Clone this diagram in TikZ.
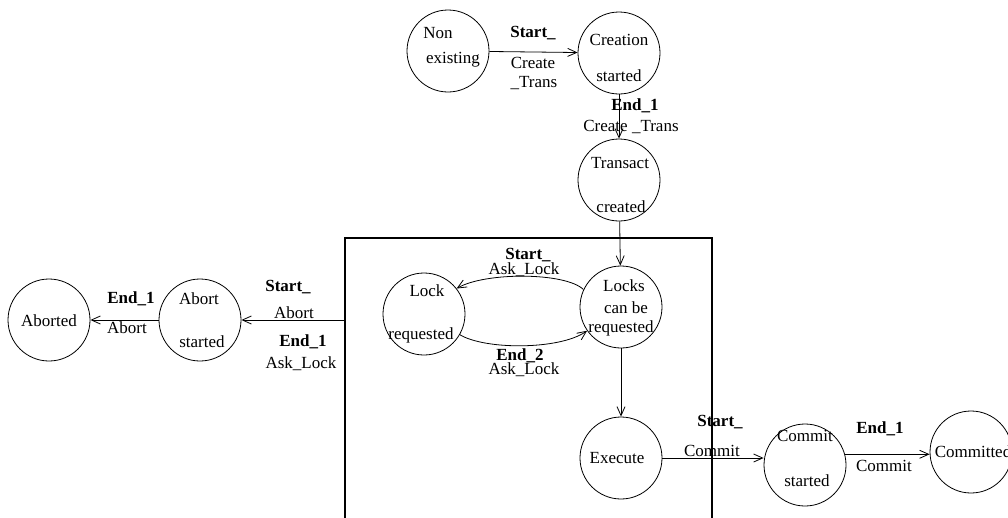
\documentclass[tikz,border=0pt]{standalone}
\usepackage{fontspec}
\setmainfont{Liberation Serif}
\usetikzlibrary{arrows.meta}
\begin{document}
\begin{tikzpicture}[x=1pt, y=-1pt, line width=0.8pt,
                    state/.style={circle, draw, minimum size=82pt, inner sep=0pt},
                    txt/.style={inner sep=0pt, font=\fontsize{17}{19}\selectfont},
                    lbl/.style={txt, font=\fontsize{17}{19}\selectfont\bfseries},
                    >={Straight Barb[length=9pt, width=8pt]}]
                    \useasboundingbox (0,0) rectangle (1008,517);
                    % states
                    \node[state] (ne) at (448,51) {};
                    \node[state] (cs) at (619,53) {};
                    \node[state] (tc) at (619,180) {};
                    \node[state] (lr) at (424,314) {};
                    \node[state] (lc) at (621,307) {};
                    \node[state] (ex) at (621,458) {};
                    \node[state] (cms) at (805,465) {};
                    \node[state] (cmd) at (971,452) {};
                    \node[state] (abs) at (200,320) {};
                    \node[state] (abd) at (49,320) {};
                    % box
                    \draw[line width=1.2pt] (345,530) -- (345,238) -- (712,238) -- (712,530);
                    \coordinate (bxw) at (345,320);
                    % state texts
                    \node[txt] (ne1) at (438,33) {Non};
                    \node[txt] (ne2) at (453,60) {existing};
                    \node[txt] (cs1) at (619,40) {Creation};
                    \node[txt] (cs2) at (619,76) {started};
                    \node[txt] (tc1) at (620,163) {Transact};
                    \node[txt] (tc2) at (621,207) {created};
                    \node[txt] (lr1) at (427,291) {Lock};
                    \node[txt] (lr2) at (421,335) {requested};
                    \node[txt] (lc1) at (624,286) {Locks};
                    \node[txt] (lc2) at (626,308) {can be};
                    \node[txt] (lc3) at (621,328) {requested};
                    \node[txt] (ex1) at (617,458) {Execute};
                    \node[txt] (cms1) at (805,436) {Commit};
                    \node[txt] (cms2) at (807,481) {started};
                    \node[txt] (cmd1) at (973,452) {Committed};
                    \node[txt] (abs1) at (199,299) {Abort};
                    \node[txt] (abs2) at (202,342) {started};
                    \node[txt] (abd1) at (49,321) {Aborted};
                    % transitions
                    \draw[->] (ne) -- (cs);
                    \draw[->] (cs) -- (tc);
                    \draw[->] (tc) -- (lc);
                    \draw[->] (lc.155) .. controls (565,272) and (485,272) .. (lr.38);
                    \draw[->] (lr.-30) .. controls (485,350) and (560,350) .. (lc.215);
                    \draw[->] (lc) -- (ex);
                    \draw[->] (ex) -- (ex -| cms.west);
                    \draw[->] (cms.15) -- (cms.15 -| cmd.west);
                    \draw[->] (bxw) -- (abs);
                    \draw[->] (abs) -- (abd);
                    % transition labels
                    \node[lbl] (t1a) at (533,33) {Start\_};
                    \node[txt] (t1b) at (533,63) {Create};
                    \node[txt] (t1c) at (534,83) {\_Trans};
                    \node[lbl] (t2a) at (635,106) {End\_1};
                    \node[txt] (t2b) at (631,127) {Create \_Trans};
                    \node[lbl] (t3a) at (528,255) {Start\_};
                    \node[txt] (t3b) at (524,270) {Ask\_Lock};
                    \node[lbl] (t4a) at (520,356) {End\_2};
                    \node[txt] (t4b) at (524,370) {Ask\_Lock};
                    \node[lbl] (t5a) at (720,422) {Start\_};
                    \node[txt] (t5b) at (712,451) {Commit};
                    \node[lbl] (t6a) at (880,429) {End\_1};
                    \node[txt] (t6b) at (884,466) {Commit};
                    \node[lbl] (t7a) at (288,287) {Start\_};
                    \node[txt] (t7b) at (294,313) {Abort};
                    \node[lbl] (t7c) at (303,342) {End\_1};
                    \node[txt] (t7d) at (301,364) {Ask\_Lock};
                    \node[lbl] (t8a) at (131,299) {End\_1};
                    \node[txt] (t8b) at (127,328) {Abort};
                \end{tikzpicture}
\end{document}
